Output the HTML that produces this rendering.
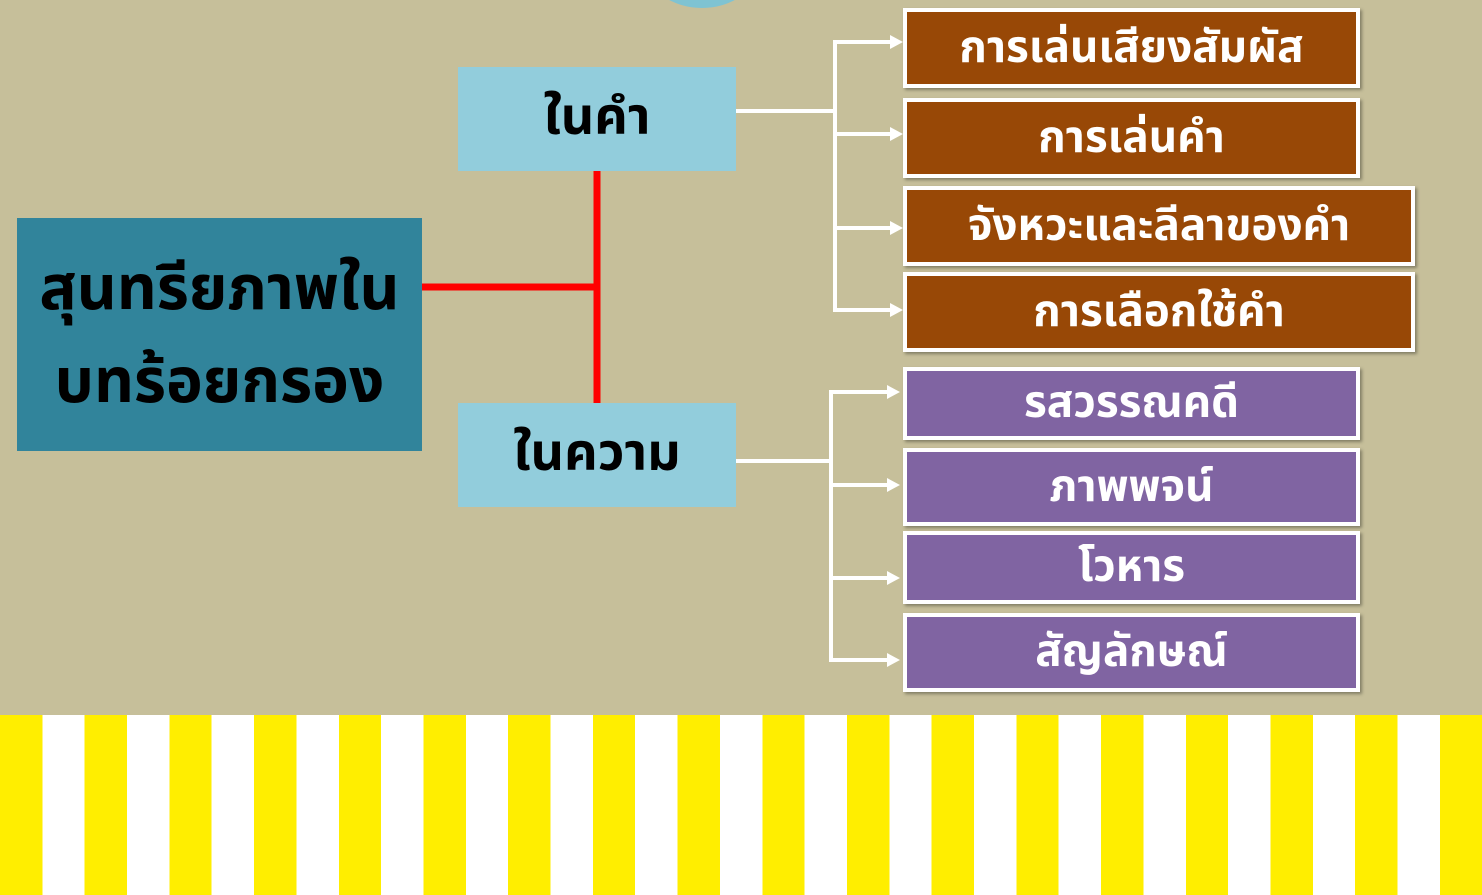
<!DOCTYPE html>
<html><head><meta charset="utf-8"><style>
body{margin:0;width:1482px;height:895px;overflow:hidden;background:#c6bf9a;position:relative;font-family:"Liberation Sans","Noto Sans Thai","Tlwg Typo","Garuda",sans-serif;}
.a{position:absolute;display:flex;align-items:center;justify-content:center;box-sizing:border-box;font-weight:bold;}
.b{background:#984806;color:#fff;border:4px solid #fff;font-size:44px;box-shadow:2px 2px 3px rgba(0,0,0,.35);}
.p{background:#8064a2;color:#fff;border:4px solid #fff;font-size:44px;box-shadow:2px 2px 3px rgba(0,0,0,.35);}
.l{background:#92cddc;color:#000;font-size:52px;}
.stripes{position:absolute;left:0;top:715px;width:1482px;height:180px;background:repeating-linear-gradient(90deg,#ffee00 0 42.35px,#fff 42.35px 84.7px);}
</style></head><body>
<div style="position:absolute;left:648px;top:-70px;width:108px;height:78px;border-radius:50%;background:#7fc3d2"></div>
<div class="a" style="left:17px;top:218px;width:405px;height:233px;background:#31849b;color:#000;font-size:62px;line-height:1.5;text-align:center">สุนทรียภาพใน<br>บทร้อยกรอง</div>
<div class="a l" style="left:458px;top:67px;width:278px;height:104px">ในคำ</div>
<div class="a l" style="left:458px;top:403px;width:278px;height:104px">ในความ</div>
<svg width="1482" height="895" style="position:absolute;left:0;top:0">
<g stroke="#f00" stroke-width="7"><line x1="422" y1="287" x2="597" y2="287"/><line x1="597" y1="171" x2="597" y2="403"/></g>
<g stroke="#fff" stroke-width="4" fill="none">
<line x1="736" y1="111" x2="835" y2="111"/><line x1="835" y1="40" x2="835" y2="312"/>
<line x1="835" y1="42" x2="892" y2="42"/><line x1="835" y1="134" x2="892" y2="134"/><line x1="835" y1="228" x2="892" y2="228"/><line x1="835" y1="310" x2="892" y2="310"/>
<line x1="736" y1="461" x2="831" y2="461"/><line x1="831" y1="390" x2="831" y2="662"/>
<line x1="831" y1="392" x2="890" y2="392"/><line x1="831" y1="485" x2="890" y2="485"/><line x1="831" y1="578" x2="890" y2="578"/><line x1="831" y1="660" x2="890" y2="660"/>
</g>
<g fill="#fff">
<path d="M890 35 L903 42 L890 49Z"/><path d="M890 127 L903 134 L890 141Z"/><path d="M890 221 L903 228 L890 235Z"/><path d="M890 303 L903 310 L890 317Z"/>
<path d="M887 385 L900 392 L887 399Z"/><path d="M887 478 L900 485 L887 492Z"/><path d="M887 571 L900 578 L887 585Z"/><path d="M887 653 L900 660 L887 667Z"/>
</g></svg>
<div class="a b" style="left:903px;top:8px;width:457px;height:80px">การเล่นเสียงสัมผัส</div>
<div class="a b" style="left:903px;top:98px;width:457px;height:80px">การเล่นคำ</div>
<div class="a b" style="left:903px;top:186px;width:512px;height:80px">จังหวะและลีลาของคำ</div>
<div class="a b" style="left:903px;top:272px;width:512px;height:80px">การเลือกใช้คำ</div>
<div class="a p" style="left:903px;top:367px;width:457px;height:73px">รสวรรณคดี</div>
<div class="a p" style="left:903px;top:448px;width:457px;height:78px">ภาพพจน์</div>
<div class="a p" style="left:903px;top:531px;width:457px;height:73px">โวหาร</div>
<div class="a p" style="left:903px;top:613px;width:457px;height:79px">สัญลักษณ์</div>
<div class="stripes"></div>
</body></html>
